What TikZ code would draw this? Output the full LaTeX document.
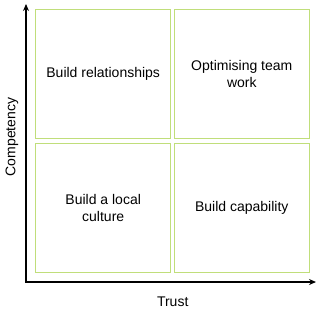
\documentclass[tikz,border=0pt]{standalone}
\usepackage{fontspec}
\setmainfont{Liberation Sans}
\usepackage{xcolor}
\usetikzlibrary{arrows.meta, positioning}
\definecolor{quadgreen}{RGB}{192,222,122}
\tikzset{
  quad/.style  = {rectangle, draw=quadgreen, line width=1pt, align=center,
                  font=\fontsize{14}{16.7}\selectfont, inner sep=0pt,
                  minimum width=135pt, minimum height=129pt},
  axis/.style  = {{Stealth[length=7pt, width=6pt]}-{Stealth[length=7pt, width=6pt]},
                  line width=1.8pt},
  lbl/.style   = {font=\fontsize{14}{16.7}\selectfont, inner sep=1pt},
}
\begin{document}
\begin{tikzpicture}[x=1pt, y=-1pt]
  \useasboundingbox (0,0) rectangle (320,314);
  % quadrants
  \node[quad] (rel)  at (103.2,73.7)  {Build relationships};
  \node[quad] (team) at (241.8,73.7)  {Optimising team\\work};
  \node[quad] (loc)  at (103.2,208.3) {Build a local\\culture};
  \node[quad] (cap)  at (241.8,208.3) {Build capability};
  % axes
  \coordinate (origin) at (26,282);
  \coordinate (ytop)   at (26,4);
  \coordinate (xend)   at (316,282);
  \draw[axis] (ytop) -- (origin) -- (xend);
  \node[lbl] (trust) at (172.7,301.7) {Trust};
  \node[lbl, rotate=90] (comp) at (12,137) {Competency};
\end{tikzpicture}
\end{document}
